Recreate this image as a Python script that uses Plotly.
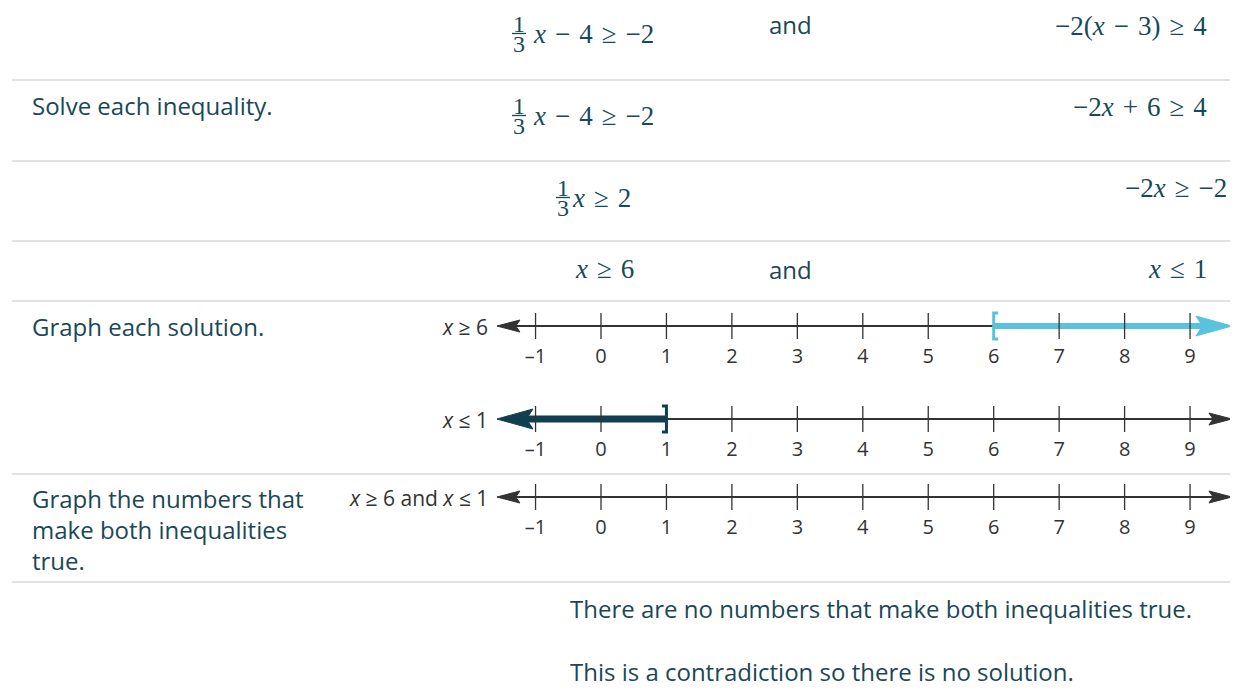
import plotly.graph_objects as go

W, H = 1238, 694
OFF = 8  # default body margin of the html page

# number line values
tick_values = [-1, 0, 1, 2, 3, 4, 5, 6, 7, 8, 9]
tick_labels = ["–1", "0", "1", "2", "3", "4", "5", "6", "7", "8", "9"]
line_min, line_max = -1.59, 9.64          # arrow tips of every number line
sol_ge = 6                                 # x >= 6, closed bracket
sol_le = 1                                 # x <= 1, closed bracket
line_labels = ["<i>x</i> ≥ 6", "<i>x</i> ≤ 1", "<i>x</i> ≥ 6 and <i>x</i> ≤ 1"]

# step texts
step_texts = ["Solve each inequality.", "Graph each solution."]
both_text = ["Graph the numbers that", "make both inequalities", "true."]
conclusion = ["There are no numbers that make both inequalities true.",
              "This is a contradiction so there is no solution."]
S = "\u2004"   # math spacing around operators and relations
left_exprs = [f"<i>x</i>{S}−{S}4{S}≥{S}−2", f"<i>x</i>{S}−{S}4{S}≥{S}−2",
              f"<i>x</i>{S}≥{S}2", f"<i>x</i>{S}≥{S}6"]
right_exprs = [f"−2(<i>x</i>{S}−{S}3){S}≥{S}4", f"−2<i>x</i>{S}+{S}6{S}≥{S}4",
               f"−2<i>x</i>{S}≥{S}−2", f"<i>x</i>{S}≤{S}1"]

# pixel mapping of the value axis
X0, UNIT = 601, 65.45
TEAL = "#1b4756"
MATH = "#174a59"
GREY = "#333333"
BLUE = "#5bc2dd"
DARK = "#123f4f"
SANS = "Open Sans"
SERIF = "Liberation Serif"


def px(v):
    return X0 + UNIT * v


def pv(p):
    return (p - X0) / UNIT


def paper_x(p):
    return (p - OFF) / (W - OFF)


def paper_y(p):
    return 1 - (p - OFF) / (H - OFF)


fig = go.Figure()
annotations = []
shapes = []


def text(x, y, s, size=24, color=TEAL, family=SANS, anchor="left", height=None):
    a = dict(x=paper_x(x), y=paper_y(y), xref="paper", yref="paper",
             text=s, showarrow=False, xanchor=anchor, yanchor="middle",
             borderpad=0, align="left",
             font=dict(size=size, color=color, family=family))
    if height:
        a["height"] = height
    annotations.append(a)


def frac(cx, main_y, main_x, s):
    text(cx, main_y - 10, "1", 24, MATH, SERIF, "center", height=18)
    text(cx, main_y + 10, "3", 24, MATH, SERIF, "center", height=18)
    shapes.append(dict(type="line", xref="paper", yref="paper",
                       x0=paper_x(cx - 7), x1=paper_x(cx + 7),
                       y0=paper_y(main_y - 0.5), y1=paper_y(main_y - 0.5),
                       line=dict(color=MATH, width=1.3)))
    text(main_x, main_y, s, 27, MATH, SERIF, "left")


# separators
for y in [80, 161, 241, 301, 474, 582]:
    shapes.append(dict(type="line", xref="paper", yref="paper", x0=paper_x(12), x1=1,
                       y0=paper_y(y), y1=paper_y(y), line=dict(color="#e2e2e2", width=2)))

# rows of algebra
frac(519, 34, 532, left_exprs[0])
frac(519, 116, 532, left_exprs[1])
frac(563, 198, 571, left_exprs[2])
text(574, 269, left_exprs[3], 27, MATH, SERIF, "left")
for y, s in zip([26, 107, 188, 269], right_exprs):
    text(1208 if y != 188 else 1228, y, s, 27, MATH, SERIF, "right")
text(790, 25, "and", anchor="center")
text(790, 269, "and", anchor="center")
text(31, 106, step_texts[0])
text(31, 327, step_texts[1])
text(31, 529, "<br>".join(both_text))
text(569, 608, conclusion[0])
text(569, 671, conclusion[1])

# number lines
line_ys = [326, 419, 497]
small_L, small_h = pv(px(0) + 23), 6
big_L, big_h = pv(px(0) + 36), 10


def arrow(tip, y, L, h, color, direction):
    d = 1 if direction == "left" else -1
    xs = [tip, tip + d * L, tip + d * L * 0.82, tip + d * L, tip]
    ys = [y, y - h, y, y + h, y]
    fig.add_trace(go.Scatter(x=xs, y=ys, mode="lines", fill="toself", fillcolor=color,
                             line=dict(color=color, width=1), hoverinfo="skip"))


for k, y in enumerate(line_ys):
    fig.add_trace(go.Scatter(x=[line_min + small_L * 0.8, line_max - small_L * 0.8], y=[y, y],
                             mode="lines", line=dict(color=GREY, width=2), hoverinfo="skip"))
    if k == 0:
        fig.add_trace(go.Scatter(x=[sol_ge, line_max - big_L * 0.8], y=[y, y], mode="lines",
                                 line=dict(color=BLUE, width=6), hoverinfo="skip"))
    if k == 1:
        fig.add_trace(go.Scatter(x=[line_min + big_L * 0.8, sol_le], y=[y, y], mode="lines",
                                 line=dict(color=DARK, width=7), hoverinfo="skip"))
    # arrowheads
    if k == 1:
        arrow(line_min, y, big_L, big_h, DARK, "left")
    else:
        arrow(line_min, y, small_L, small_h, GREY, "left")
    if k == 0:
        arrow(line_max, y, big_L, big_h, BLUE, "right")
    else:
        arrow(line_max, y, small_L, small_h, GREY, "right")
    # ticks
    tx, ty = [], []
    for v in tick_values:
        if (k == 0 and v == sol_ge) or (k == 1 and v == sol_le):
            continue
        tx += [v, v, None]
        ty += [y - 13, y + 13, None]
    fig.add_trace(go.Scatter(x=tx, y=ty, mode="lines", line=dict(color=GREY, width=1.3),
                             hoverinfo="skip"))
    fig.add_trace(go.Scatter(x=tick_values, y=[y + 32] * len(tick_values), mode="text",
                             text=tick_labels, textfont=dict(size=20, color=GREY, family=SANS),
                             hoverinfo="skip"))
    # brackets
    s = pv(px(0) + 4.5)
    if k == 0:
        fig.add_trace(go.Scatter(x=[sol_ge + s, sol_ge, sol_ge, sol_ge + s],
                                 y=[y - 13, y - 13, y + 13, y + 13], mode="lines",
                                 line=dict(color=BLUE, width=3), hoverinfo="skip"))
    if k == 1:
        fig.add_trace(go.Scatter(x=[sol_le - s, sol_le, sol_le, sol_le - s],
                                 y=[y - 13, y - 13, y + 13, y + 13], mode="lines",
                                 line=dict(color=DARK, width=3), hoverinfo="skip"))
    text(489, y + 1, line_labels[k], 21, GREY, SANS, "right")

fig.update_layout(
    width=W - OFF, height=H - OFF, margin=dict(l=0, r=0, t=0, b=0),
    paper_bgcolor="white", plot_bgcolor="white", showlegend=False,
    xaxis=dict(range=[pv(OFF), pv(W)], visible=False, fixedrange=True),
    yaxis=dict(range=[H, OFF], visible=False, fixedrange=True),
    annotations=annotations, shapes=shapes,
)

fig.write_html("out.html")
